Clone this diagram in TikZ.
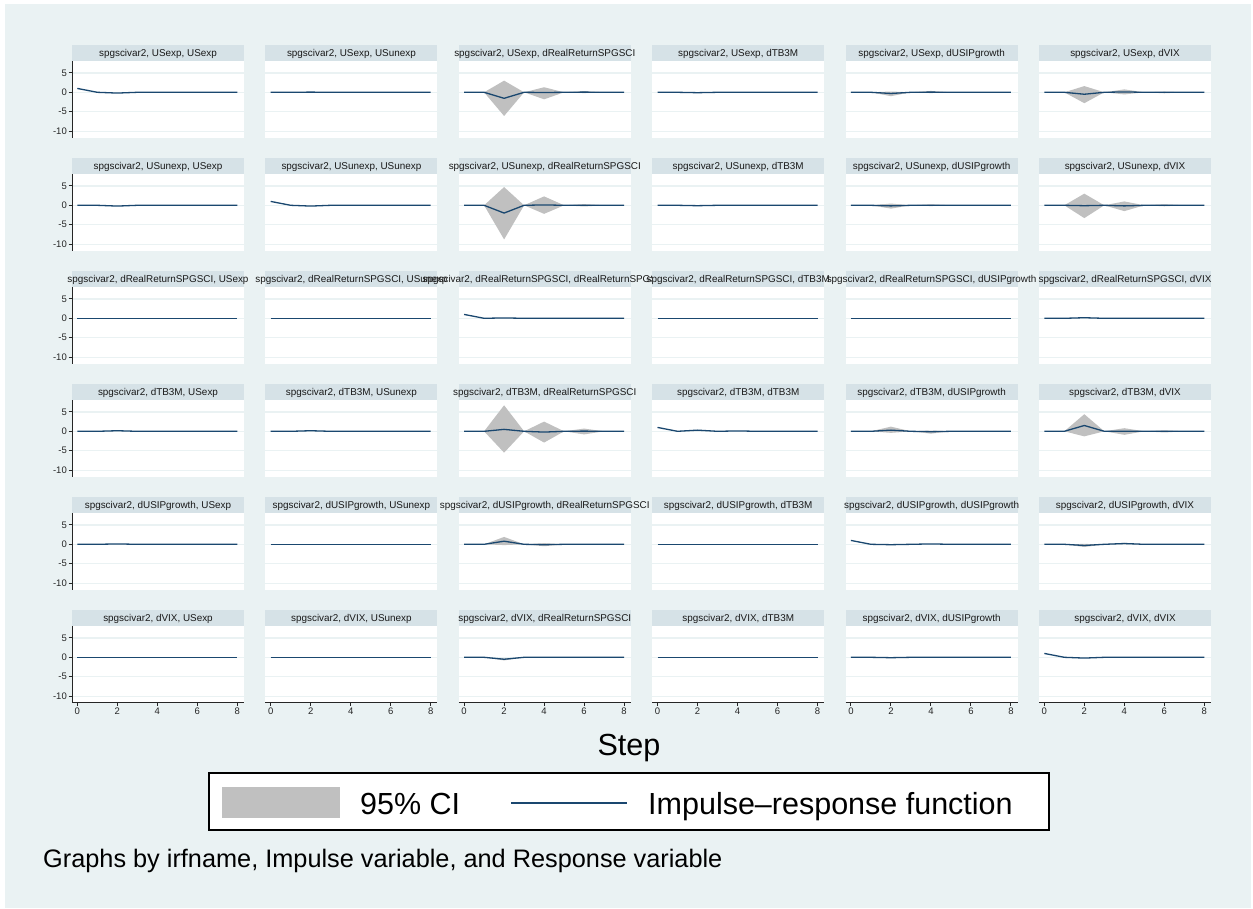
\documentclass[tikz,border=0pt]{standalone}
\usepackage{fontspec}
\setmainfont{Liberation Sans}
\definecolor{bgc}{RGB}{234,242,243}
\definecolor{titlebgc}{RGB}{214,226,231}
\definecolor{gridc}{RGB}{234,242,243}
\definecolor{cic}{RGB}{192,192,192}
\definecolor{navyc}{RGB}{26,71,111}
\tikzset{
  titlebg/.style={fill=titlebgc},
  ttl/.style={font=\fontsize{9.9}{11}\selectfont, inner sep=0pt, anchor=base, text=black!90},
  gridln/.style={draw=gridc, line width=1.2pt},
  cifill/.style={fill=cic},
  irfln/.style={draw=navyc, line width=1.3pt, line join=round},
  axisln/.style={draw=black!85, line width=0.9pt},
  ticklbl/.style={font=\fontsize{9.5}{11}\selectfont, inner sep=0pt, text=black!85},
  bigtext/.style={font=\fontsize{30.5}{34}\selectfont, inner sep=0pt},
}
\newcommand{\irfpanel}[8]{%
  \pgfmathsetmacro\pL{72+193.4*#1}%
  \pgfmathsetmacro\pT{45+113*#2}%
  \fill[titlebg] (\pL,\pT) rectangle ++(172,16);
  \node[ttl] (t#1#2) at (\pL+86,\pT+11.6) {#3};
  \fill[white] (\pL,\pT+16) rectangle ++(172,76.5);
  \begin{scope}[shift={(\pL+5.3,\pT+47.3)},x=20pt,y=3.88pt]
    \foreach \g in {5,0,-5,-10} \draw[gridln] (-0.265,\g) -- (8.335,\g);
    \foreach \s/\u/\l in {#8} \fill[cifill] (\s-1,0) -- (\s,\u) -- (\s+1,0) -- (\s,\l) -- cycle;
    \draw[irfln] (0,#4) -- (1,0) -- (2,#5) -- (3,0) -- (4,#6) -- (5,0) -- (6,#7) -- (7,0) -- (8,0);
  \end{scope}
}
\begin{document}
\begin{tikzpicture}[x=1pt,y=-1pt]
\useasboundingbox (0,0) rectangle (1253,908);
\fill[white] (0,0) rectangle (1253,908);
\fill[bgc] (5,4) rectangle (1251,908);
% row 0: USexp
\irfpanel{0}{0}{spgscivar2, USexp, USexp}{1}{-0.2}{0}{0}{2/0/0}
\irfpanel{1}{0}{spgscivar2, USexp, USunexp}{0}{0.05}{0}{0}{2/0/0}
\irfpanel{2}{0}{spgscivar2, USexp, dRealReturnSPGSCI}{0}{-1.55}{-0.05}{0.05}{2/3.0/-6.1, 4/1.3/-1.8, 6/0.3/-0.2}
\irfpanel{3}{0}{spgscivar2, USexp, dTB3M}{0}{-0.1}{0}{0}{2/0/0}
\irfpanel{4}{0}{spgscivar2, USexp, dUSIPgrowth}{0}{-0.3}{0.05}{0}{2/0.2/-1.0, 4/0.35/-0.2}
\irfpanel{5}{0}{spgscivar2, USexp, dVIX}{0}{-0.5}{0.1}{0}{2/1.6/-2.8, 4/0.75/-0.55, 6/0.15/-0.25}
% row 1: USunexp
\irfpanel{0}{1}{spgscivar2, USunexp, USexp}{0}{-0.2}{0}{0}{2/0/0}
\irfpanel{1}{1}{spgscivar2, USunexp, USunexp}{1}{-0.2}{0}{0}{2/0/0}
\irfpanel{2}{1}{spgscivar2, USunexp, dRealReturnSPGSCI}{0}{-2.0}{0.1}{0}{2/4.7/-8.8, 4/2.3/-2.2, 6/0.3/-0.3}
\irfpanel{3}{1}{spgscivar2, USunexp, dTB3M}{0}{-0.1}{0}{0}{2/0/0}
\irfpanel{4}{1}{spgscivar2, USunexp, dUSIPgrowth}{0}{-0.15}{0}{0}{2/0.45/-0.85, 4/0.25/-0.2}
\irfpanel{5}{1}{spgscivar2, USunexp, dVIX}{0}{-0.1}{-0.15}{0}{2/3.0/-3.3, 4/1.0/-1.5, 6/0.25/-0.25}
% row 2: dRealReturnSPGSCI
\irfpanel{0}{2}{spgscivar2, dRealReturnSPGSCI, USexp}{0}{0}{0}{0}{2/0/0}
\irfpanel{1}{2}{spgscivar2, dRealReturnSPGSCI, USunexp}{0}{0}{0}{0}{2/0/0}
\irfpanel{2}{2}{spgscivar2, dRealReturnSPGSCI, dRealReturnSPGSCI}{1}{0.1}{0}{0}{2/0/0}
\irfpanel{3}{2}{spgscivar2, dRealReturnSPGSCI, dTB3M}{0}{0}{0}{0}{2/0/0}
\irfpanel{4}{2}{spgscivar2, dRealReturnSPGSCI, dUSIPgrowth}{0}{0}{0}{0}{2/0/0}
\irfpanel{5}{2}{spgscivar2, dRealReturnSPGSCI, dVIX}{0}{0.15}{0}{0}{2/0/0}
% row 3: dTB3M
\irfpanel{0}{3}{spgscivar2, dTB3M, USexp}{0}{0.15}{0}{0}{2/0/0}
\irfpanel{1}{3}{spgscivar2, dTB3M, USunexp}{0}{0.15}{0}{0}{2/0/0}
\irfpanel{2}{3}{spgscivar2, dTB3M, dRealReturnSPGSCI}{0}{0.5}{-0.2}{0.05}{2/6.7/-5.5, 4/2.5/-2.9, 6/0.7/-0.8}
\irfpanel{3}{3}{spgscivar2, dTB3M, dTB3M}{1}{0.3}{0.1}{0}{2/0/0}
\irfpanel{4}{3}{spgscivar2, dTB3M, dUSIPgrowth}{0}{0.3}{-0.1}{0}{2/1.2/-0.4, 4/0.2/-0.6}
\irfpanel{5}{3}{spgscivar2, dTB3M, dVIX}{0}{1.5}{0}{0}{2/4.4/-1.3, 4/0.8/-0.9, 6/0.25/-0.3}
% row 4: dUSIPgrowth
\irfpanel{0}{4}{spgscivar2, dUSIPgrowth, USexp}{0}{0.1}{0}{0}{2/0/0}
\irfpanel{1}{4}{spgscivar2, dUSIPgrowth, USunexp}{0}{0}{0}{0}{2/0/0}
\irfpanel{2}{4}{spgscivar2, dUSIPgrowth, dRealReturnSPGSCI}{0}{0.8}{-0.1}{0}{2/1.9/-0.2, 4/0.3/-0.5}
\irfpanel{3}{4}{spgscivar2, dUSIPgrowth, dTB3M}{0}{0}{0}{0}{2/0/0}
\irfpanel{4}{4}{spgscivar2, dUSIPgrowth, dUSIPgrowth}{1}{-0.1}{0.1}{0}{2/0/0}
\irfpanel{5}{4}{spgscivar2, dUSIPgrowth, dVIX}{0}{-0.3}{0.2}{0}{2/0.1/-0.7, 4/0.35/0}
% row 5: dVIX
\irfpanel{0}{5}{spgscivar2, dVIX, USexp}{0}{0}{0}{0}{2/0/0}
\irfpanel{1}{5}{spgscivar2, dVIX, USunexp}{0}{0}{0}{0}{2/0/0}
\irfpanel{2}{5}{spgscivar2, dVIX, dRealReturnSPGSCI}{0}{-0.5}{0}{0}{2/-0.3/-0.8}
\irfpanel{3}{5}{spgscivar2, dVIX, dTB3M}{0}{0}{0}{0}{2/0/0}
\irfpanel{4}{5}{spgscivar2, dVIX, dUSIPgrowth}{0}{-0.1}{0}{0}{2/0/0}
\irfpanel{5}{5}{spgscivar2, dVIX, dVIX}{1}{-0.2}{0}{0}{2/0/0}
% y axes (first column)
\foreach \r in {0,...,5}{
  \pgfmathsetmacro\pT{45+113*\r}
  \draw[axisln] (72,\pT+16) -- (72,\pT+92.5);
  \foreach \v in {5,0,-5,-10}{
    \pgfmathsetmacro\yy{\pT+47.3-3.88*\v}
    \draw[axisln] (68.5,\yy) -- (72,\yy);
    \node[ticklbl, anchor=east] (yl\r\v) at (67,\yy) {\v};
  }
}
% x axes (last row)
\foreach \c in {0,...,5}{
  \pgfmathsetmacro\pL{72+193.4*\c}
  \draw[axisln] (\pL,702.5) -- (\pL+172,702.5);
  \foreach \k in {0,2,4,6,8}{
    \draw[axisln] (\pL+5.3+20*\k,702.5) -- (\pL+5.3+20*\k,706);
    \node[ticklbl, anchor=north] (xl\c\k) at (\pL+5.3+20*\k,708) {\k};
  }
}
% axis title
\node[bigtext, anchor=base] (steplbl) at (629,755) {Step};
% legend
\node[draw=black, line width=1.2pt, fill=white, minimum width=840pt, minimum height=57pt, inner sep=0pt] (legend) at (629,801.5) {};
\fill[cic] (222,787) rectangle (340,818);
\node[bigtext, anchor=base west] (ci) at (360,814) {95\% CI};
\coordinate (la) at (511,803);
\coordinate (lb) at (627,803);
\draw[draw=navyc, line width=2pt] (la) -- (lb);
\node[bigtext, anchor=base west] (irflbl) at (648,814) {Impulse–response function};
% note
\node[font=\fontsize{25.3}{28}\selectfont, inner sep=0pt, anchor=base west] (note) at (43,867) {Graphs by irfname, Impulse variable, and Response variable};
\end{tikzpicture}
\end{document}
